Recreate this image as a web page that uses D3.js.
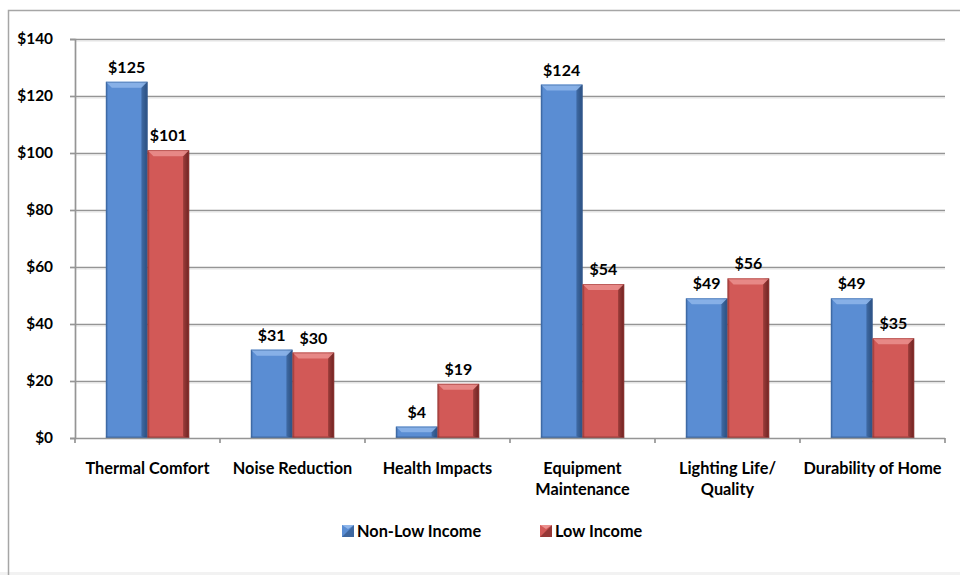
<!DOCTYPE html>
<html><head><meta charset="utf-8">
<script src="https://cdn.jsdelivr.net/npm/d3@7/dist/d3.min.js"></script>
<style>
html,body{margin:0;padding:0;background:#fff;}
svg{display:block;}
text{font-family:Lato,"Open Sans",sans-serif;font-weight:bold;fill:#000;}
</style></head>
<body>
<svg id="chart" width="960" height="575"></svg>
<script>
const categories = [["Thermal Comfort"],["Noise Reduction"],["Health Impacts"],["Equipment","Maintenance"],["Lighting Life/","Quality"],["Durability of Home"]];
const nonLowIncome = [125, 31, 4, 124, 49, 49];
const lowIncome = [101, 30, 19, 54, 56, 35];
const seriesNames = ["Non-Low Income", "Low Income"];
const yTicks = [0, 20, 40, 60, 80, 100, 120, 140];

(function(){
const svg = d3.select("#chart");
const W = 960, H = 575;
const mLeft = 75, mRight = 945, mTop = 39, mBottom = 438;

// frame
svg.append("rect").attr("x",0).attr("y",572).attr("width",W).attr("height",3).attr("fill","#f2f2f2");
svg.append("path").attr("d",`M8.5,575 V10.5 H960`).attr("fill","none").attr("stroke","#a6a6a6").attr("stroke-width",1.5);

const defs = svg.append("defs");
const colors = [
  {base:"#5a8dd3", dark:"#2a4e7e", light:"#8fb6ea", edge:"#3b669f"},
  {base:"#d25957", dark:"#6e2322", light:"#eb908e", edge:"#9c3a38"}
];
colors.forEach((c,i)=>{
  const g = defs.append("linearGradient").attr("id","hg"+i).attr("x1","0").attr("x2","1").attr("y1","0").attr("y2","0");
  g.append("stop").attr("offset","0").attr("stop-color",c.edge);
  g.append("stop").attr("offset","0.06").attr("stop-color",c.base);
  g.append("stop").attr("offset","0.84").attr("stop-color",c.base);
  g.append("stop").attr("offset","1").attr("stop-color",c.dark);
});

const x0 = d3.scaleBand().domain(d3.range(categories.length)).range([mLeft, mRight]).paddingInner(0).paddingOuter(0);
const x1 = d3.scaleBand().domain([0,1]).range([0, x0.bandwidth()]).paddingInner(0).paddingOuter(0.74);
const y = d3.scaleLinear().domain([0,140]).range([mBottom, mTop]);

// gridlines
svg.append("g").selectAll("line").data(yTicks.filter(d=>d>0)).join("line")
  .attr("x1",mLeft).attr("x2",mRight).attr("y1",d=>y(d)+0.5).attr("y2",d=>y(d)+0.5)
  .attr("stroke","#959595").attr("stroke-width",1.7);
svg.append("g").selectAll("line").data(yTicks.filter(d=>d>0)).join("line")
  .attr("x1",mLeft).attr("x2",mRight).attr("y1",d=>y(d)+2).attr("y2",d=>y(d)+2)
  .attr("stroke","#e4e4e4").attr("stroke-width",1);

// y axis
const yAxis = d3.axisLeft(y).tickValues(yTicks).tickSize(5).tickFormat(d=>"$"+d);
const ya = svg.append("g").attr("transform",`translate(${mLeft},0)`).call(yAxis);
ya.select(".domain").attr("stroke","#959595").attr("stroke-width",1.7);
ya.selectAll(".tick line").attr("stroke","#959595").attr("stroke-width",1.7);
ya.selectAll(".tick text").attr("x",-22).attr("font-size",15.4).attr("font-family","Lato").attr("font-weight","bold").attr("fill","#000");

// bars
const series = [nonLowIncome, lowIncome];
const bev = 6;
series.forEach((vals,si)=>{
  const c = colors[si];
  const g = svg.append("g");
  vals.forEach((v,ci)=>{
    const bx = x0(ci)+x1(si), bw = x1.bandwidth(), by = y(v), bb = y(0);
    const h = bb-by;
    const b = Math.min(bev, h/2, bw/2);
    g.append("rect").attr("x",bx).attr("y",by).attr("width",bw).attr("height",h).attr("fill",`url(#hg${si})`);
    g.append("path").attr("d",`M${bx},${by} H${bx+bw} L${bx+bw-b},${by+b} H${bx+b} Z`).attr("fill",c.light).attr("opacity",0.85);
    g.append("path").attr("d",`M${bx+bw},${by} V${bb} L${bx+bw-b},${bb-Math.min(b,2)} V${by+b} Z`).attr("fill",c.dark).attr("opacity",0.5);
    g.append("rect").attr("x",bx).attr("y",bb-1.5).attr("width",bw).attr("height",1.5).attr("fill",c.dark).attr("opacity",0.5);
    g.append("rect").attr("x",bx+0.5).attr("y",by+0.5).attr("width",bw-1).attr("height",h-1).attr("fill","none").attr("stroke",c.edge).attr("stroke-width",0.8).attr("opacity",0.7);
    g.append("text").attr("x",bx+bw/2).attr("y",by-9).attr("text-anchor","middle").attr("font-size",16).text("$"+v);
  });
});

// x axis
const xa = svg.append("g");
xa.append("line").attr("x1",mLeft).attr("x2",mRight).attr("y1",mBottom+0.5).attr("y2",mBottom+0.5).attr("stroke","#959595").attr("stroke-width",1.7);
xa.selectAll("line.t").data(d3.range(categories.length+1)).join("line").attr("class","t")
  .attr("x1",d=>mLeft+d*x0.step()).attr("x2",d=>mLeft+d*x0.step()).attr("y1",mBottom).attr("y2",mBottom+5)
  .attr("stroke","#959595").attr("stroke-width",1.7);
categories.forEach((lines,ci)=>{
  const t = xa.append("text").attr("x",x0(ci)+x0.bandwidth()/2).attr("y",474).attr("text-anchor","middle").attr("font-size",16.3);
  lines.forEach((l,li)=>t.append("tspan").attr("x",x0(ci)+x0.bandwidth()/2).attr("dy",li?21:0).text(l));
});

// legend
const legX = [342, 540];
seriesNames.forEach((n,i)=>{
  const c = colors[i];
  const lx = legX[i], ly = 525;
  svg.append("rect").attr("x",lx).attr("y",ly).attr("width",12).attr("height",12).attr("fill",c.base);
  svg.append("path").attr("d",`M${lx},${ly+12} L${lx+12},${ly} V${ly+12} Z`).attr("fill",c.dark).attr("opacity",0.6);
  svg.append("path").attr("d",`M${lx},${ly} H${lx+12} L${lx+6},${ly+4} Z`).attr("fill",c.light);
  svg.append("text").attr("x",lx+15).attr("y",ly+12).attr("font-size",16.3).text(n);
});
})();
</script>
</body></html>
